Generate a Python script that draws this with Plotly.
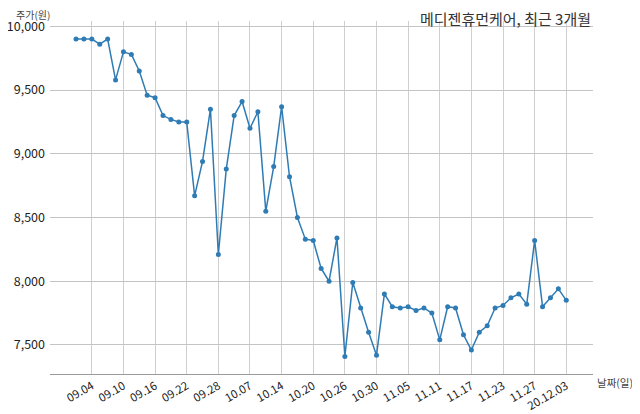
import plotly.graph_objects as go

dates = ["09.02", "09.03", "09.04", "09.07", "09.08", "09.09", "09.10", "09.11", "09.14", "09.15",
         "09.16", "09.17", "09.18", "09.21", "09.22", "09.23", "09.24", "09.25", "09.28", "09.29",
         "10.05", "10.06", "10.07", "10.08", "10.12", "10.13", "10.14", "10.15", "10.16", "10.19",
         "10.20", "10.21", "10.22", "10.23", "10.26", "10.27", "10.28", "10.29", "10.30", "11.02",
         "11.03", "11.04", "11.05", "11.06", "11.09", "11.10", "11.11", "11.12", "11.13", "11.16",
         "11.17", "11.18", "11.19", "11.20", "11.23", "11.24", "11.25", "11.26", "11.27", "11.30",
         "12.01", "12.02", "12.03"]

prices = [9900, 9900, 9900, 9860, 9900, 9580, 9800, 9780, 9650, 9460,
          9440, 9300, 9270, 9250, 9250, 8670, 8940, 9350, 8210, 8880,
          9300, 9410, 9200, 9330, 8550, 8900, 9370, 8820, 8500, 8330,
          8320, 8100, 8000, 8340, 7410, 7990, 7790, 7600, 7420, 7900,
          7800, 7790, 7800, 7770, 7790, 7750, 7540, 7800, 7790, 7580,
          7460, 7600, 7650, 7790, 7810, 7870, 7900, 7820, 8320, 7800,
          7870, 7940, 7850]

tick_dates = ["09.04", "09.10", "09.16", "09.22", "09.28", "10.07", "10.14", "10.20",
              "10.26", "10.30", "11.05", "11.11", "11.17", "11.23", "11.27", "12.03"]
tick_labels = ["09.04", "09.10", "09.16", "09.22", "09.28", "10.07", "10.14", "10.20",
               "10.26", "10.30", "11.05", "11.11", "11.17", "11.23", "11.27", "20.12.03"]

y_ticks = [7500, 8000, 8500, 9000, 9500, 10000]

FONT = "Noto Sans CJK KR"
LINE = "#2f7cb5"

fig = go.Figure()
fig.add_trace(go.Scatter(
    x=dates, y=prices, mode="lines+markers",
    line=dict(color=LINE, width=1.5),
    marker=dict(color=LINE, size=5),
    showlegend=False, hoverinfo="x+y",
))

fig.update_layout(
    width=632, height=406,
    margin=dict(l=42, r=47, t=13, b=40),
    paper_bgcolor="white", plot_bgcolor="white",
    font=dict(family=FONT, size=12, color="#222"),
    xaxis=dict(
        type="category", range=[-3.29, 65.38], automargin=False,
        tickmode="array", tickvals=tick_dates, ticktext=tick_labels,
        tickangle=-30, tickfont=dict(size=11.5, color="#222"),
        showgrid=True, gridcolor="#cfcfcf", gridwidth=1.3,
        showline=True, linecolor="#9a9a9a", linewidth=1,
        ticks="", zeroline=False,
    ),
    yaxis=dict(
        range=[7272, 10042], automargin=False,
        tickmode="array", tickvals=y_ticks, tickformat=",",
        tickfont=dict(size=12.5, color="#222"),
        showgrid=True, gridcolor="#c4c4c4", gridwidth=1,
        showline=False, ticks="", zeroline=False,
        ticklabelstandoff=4,
    ),
    annotations=[
        dict(text="주가(원)", xref="paper", yref="paper", x=-0.066, y=1.019,
             xanchor="left", yanchor="middle", showarrow=False,
             font=dict(family=FONT, size=10, color="#444")),
        dict(text="메디젠휴먼케어, 최근 3개월", xref="paper", yref="paper", x=1.0, y=1.007,
             xanchor="right", yanchor="middle", showarrow=False,
             font=dict(family=FONT, size=15, color="#333")),
        dict(text="날짜(일)", xref="paper", yref="paper", x=1.0035, y=-0.023,
             xanchor="left", yanchor="middle", showarrow=False,
             font=dict(family=FONT, size=10.5, color="#444")),
    ],
)

fig.write_html("out.html")
